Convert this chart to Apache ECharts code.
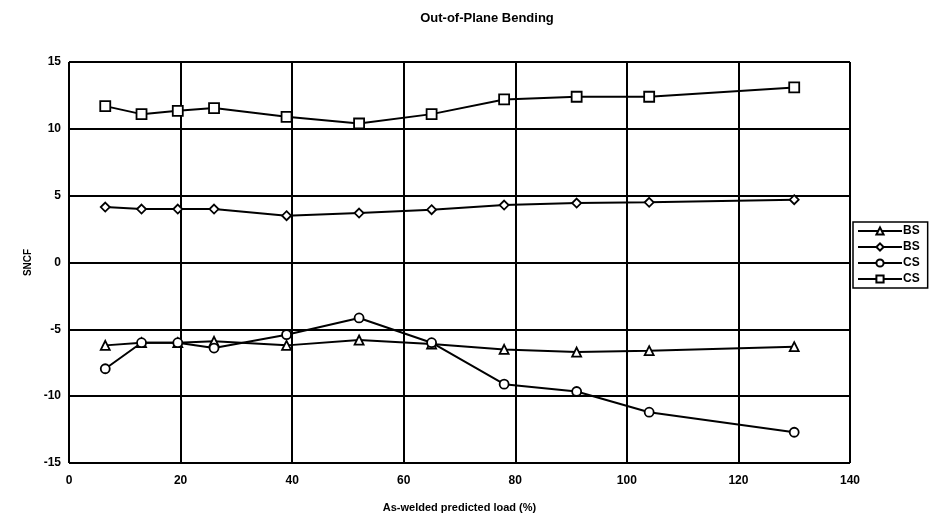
<!DOCTYPE html>
<html>
<head>
<meta charset="utf-8">
<script src="https://cdn.jsdelivr.net/npm/echarts@6/dist/echarts.min.js"></script>
<style>
  html, body { margin: 0; padding: 0; background: #fff; }
  #chart { width: 940px; height: 527px; }
</style>
</head>
<body>
<div id="chart"></div>
<script>
// load levels (% of as-welded predicted load)
var loads = [6.5, 13, 19.5, 26, 39, 52, 65, 78, 91, 104, 130];

// SNCF per gauge
var bsTriangle = [-6.2, -6.0, -6.0, -5.9, -6.2, -5.8, -6.1, -6.5, -6.7, -6.6, -6.3];
var bsDiamond = [4.15, 4.0, 4.0, 4.0, 3.5, 3.7, 3.95, 4.3, 4.45, 4.5, 4.7];
var csCircle = [-7.95, -6.0, -6.0, -6.4, -5.4, -4.15, -6.0, -9.1, -9.65, -11.2, -12.7];
var csSquare = [11.7, 11.1, 11.35, 11.55, 10.9, 10.4, 11.1, 12.2, 12.4, 12.4, 13.1];

var seriesNames = ['BS', 'BS ', 'CS', 'CS '];

function pairs(values) {
  return loads.map(function (x, i) {
    return [x, values[i]];
  });
}

function makeSeries(name, symbol, size, values) {
  return {
    name: name,
    type: 'line',
    symbol: symbol,
    symbolSize: size,
    showAllSymbol: true,
    lineStyle: { color: '#000', width: 2 },
    itemStyle: { color: '#fff', borderColor: '#000', borderWidth: 1.8 },
    data: pairs(values)
  };
}

var font = 'Liberation Sans';
var myChart = echarts.init(document.getElementById('chart'));

var option = {
  animation: false,
  backgroundColor: '#fff',
  title: {
    text: 'Out-of-Plane Bending',
    left: 482,
    textAlign: 'center',
    top: 7,
    textStyle: { fontFamily: font, fontSize: 13, fontWeight: 'bold', color: '#000' }
  },
  legend: {
    orient: 'vertical',
    left: 853,
    top: 222,
    itemWidth: 44,
    itemHeight: 9,
    itemGap: 4,
    padding: [3, 8, 3, 4],
    borderColor: '#000',
    borderWidth: 1.5,
    data: seriesNames,
    formatter: function (n) { return n.trim(); },
    textStyle: { fontFamily: font, fontSize: 12, fontWeight: 'bold', color: '#000', padding: [0, 0, 0, -4] }
  },
  grid: {
    left: 69,
    right: 90,
    top: 62,
    bottom: 64
  },
  xAxis: {
    type: 'value',
    min: 0,
    max: 140,
    interval: 20,
    name: 'As-welded predicted load (%)',
    nameLocation: 'middle',
    nameGap: 39,
    nameTextStyle: { fontFamily: font, fontSize: 11, fontWeight: 'bold', color: '#000' },
    axisLine: { show: false },
    axisTick: { show: false },
    axisLabel: { fontFamily: font, fontSize: 12, fontWeight: 'bold', color: '#000', margin: 12 },
    splitLine: { show: true, lineStyle: { color: '#000', width: 2 } }
  },
  yAxis: {
    type: 'value',
    min: -15,
    max: 15,
    interval: 5,
    name: 'SNCF',
    nameLocation: 'middle',
    nameRotate: 90,
    nameGap: 30,
    nameTextStyle: { fontFamily: font, fontSize: 10, fontWeight: 'bold', color: '#000' },
    axisLine: { show: false },
    axisTick: { show: false },
    axisLabel: { fontFamily: font, fontSize: 12, fontWeight: 'bold', color: '#000', margin: 8 },
    splitLine: { show: true, lineStyle: { color: '#000', width: 2 } }
  },
  series: [
    makeSeries(seriesNames[0], 'triangle', 9, bsTriangle),
    makeSeries(seriesNames[1], 'diamond', 9, bsDiamond),
    makeSeries(seriesNames[2], 'circle', 9, csCircle),
    makeSeries(seriesNames[3], 'rect', 10, csSquare)
  ]
};

myChart.setOption(option);
</script>
</body>
</html>
